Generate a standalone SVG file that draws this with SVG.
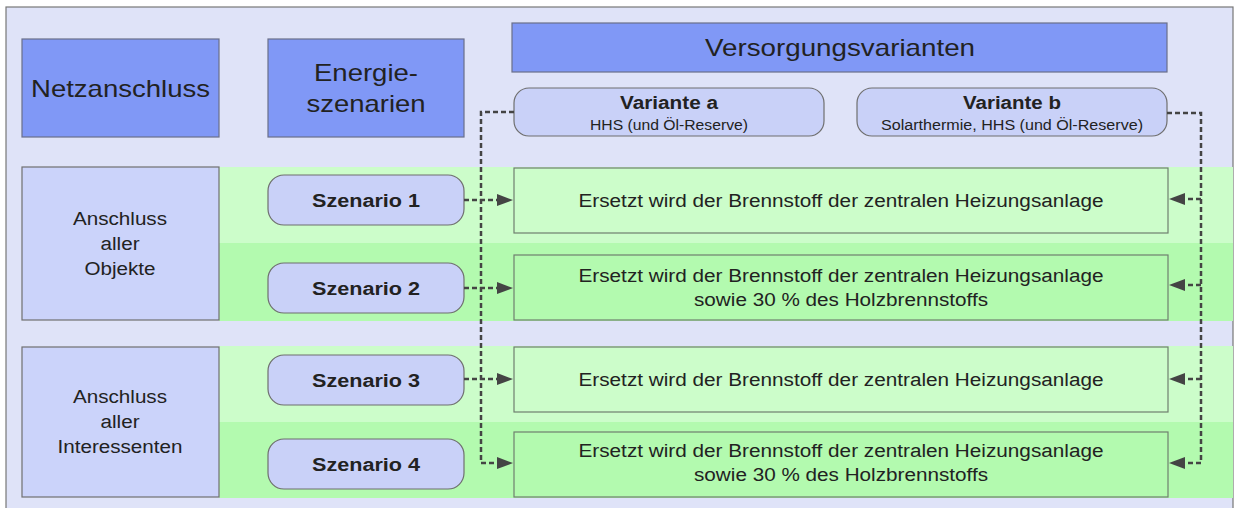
<svg xmlns="http://www.w3.org/2000/svg" xmlns:xlink="http://www.w3.org/1999/xlink" width="1235" height="508" viewBox="0 0 1235 508">
<defs>
<style>
text{font-family:"Liberation Sans",Arial,sans-serif;fill:#222;text-anchor:middle}
.hdr{fill:#8098f6;stroke:#6a6f8a;stroke-width:1.2}
.lav{fill:#cbd3fa;stroke:#707070;stroke-width:1.2}
.pill{fill:#c9d1f8;stroke:#6f6f6f;stroke-width:1.2}
.g1{fill:#ccfdca;stroke:#6f7f6f;stroke-width:1.2}
.g2{fill:#b3faaf;stroke:#6f7f6f;stroke-width:1.2}
.t24{font-size:24px}
.t18{font-size:18px}
.b18{font-size:18px;font-weight:bold}
.t14{font-size:14px}
.con{fill:none;stroke:#444;stroke-width:2.5;stroke-dasharray:5 3}
.ah{fill:#444;stroke:none}
</style>
<path id="ahR" class="ah" d="M-16,-6 L0,0 L-16,6 Z"/>
<path id="ahL" class="ah" d="M16,-6 L0,0 L16,6 Z"/>
</defs>

<rect x="6" y="7" width="1227" height="510" fill="#dfe3f8" stroke="#777" stroke-width="1.2"/>

<g id="bands">
<rect x="219" y="167" width="1014" height="76" fill="#ccfdca"/>
<rect x="219" y="243" width="1014" height="78" fill="#b3faaf"/>
<rect x="219" y="346" width="1014" height="76" fill="#ccfdca"/>
<rect x="219" y="422" width="1014" height="76" fill="#b3faaf"/>
</g>

<g id="netzanschluss">
<rect class="hdr" x="22" y="39" width="197" height="98"/>
<text class="t24" x="120.5" y="97" textLength="179" lengthAdjust="spacingAndGlyphs">Netzanschluss</text>
</g>
<g id="energieszenarien">
<rect class="hdr" x="268" y="39" width="196" height="98"/>
<text class="t24" x="366" y="81" textLength="104" lengthAdjust="spacingAndGlyphs">Energie-</text>
<text class="t24" x="366" y="112" textLength="119" lengthAdjust="spacingAndGlyphs">szenarien</text>
</g>
<g id="versorgungsvarianten">
<rect class="hdr" x="512" y="23" width="655" height="49"/>
<text class="t24" x="840" y="56" textLength="270" lengthAdjust="spacingAndGlyphs">Versorgungsvarianten</text>
</g>

<g id="variante-a">
<rect class="pill" x="514" y="88" width="310" height="48" rx="15"/>
<text class="b18" x="669" y="109" textLength="98" lengthAdjust="spacingAndGlyphs">Variante a</text>
<text class="t14" x="669" y="130" textLength="158" lengthAdjust="spacingAndGlyphs">HHS (und Öl-Reserve)</text>
</g>
<g id="variante-b">
<rect class="pill" x="857" y="88" width="310" height="48" rx="15"/>
<text class="b18" x="1012" y="109" textLength="98" lengthAdjust="spacingAndGlyphs">Variante b</text>
<text class="t14" x="1012" y="130" textLength="262" lengthAdjust="spacingAndGlyphs">Solarthermie, HHS (und Öl-Reserve)</text>
</g>

<g id="anschluss-objekte">
<rect class="lav" x="22" y="167" width="197" height="153"/>
<text class="t18" x="120" y="225" textLength="94" lengthAdjust="spacingAndGlyphs">Anschluss</text>
<text class="t18" x="120" y="250" textLength="39" lengthAdjust="spacingAndGlyphs">aller</text>
<text class="t18" x="120" y="275" textLength="71" lengthAdjust="spacingAndGlyphs">Objekte</text>
</g>
<g id="anschluss-interessenten">
<rect class="lav" x="22" y="347" width="197" height="150"/>
<text class="t18" x="120" y="403" textLength="94" lengthAdjust="spacingAndGlyphs">Anschluss</text>
<text class="t18" x="120" y="428" textLength="39" lengthAdjust="spacingAndGlyphs">aller</text>
<text class="t18" x="120" y="453" textLength="125" lengthAdjust="spacingAndGlyphs">Interessenten</text>
</g>

<g id="szenario-1">
<rect class="pill" x="268" y="175" width="196" height="50" rx="16"/>
<text class="b18" x="366" y="207" textLength="108" lengthAdjust="spacingAndGlyphs">Szenario 1</text>
</g>
<g id="szenario-2">
<rect class="pill" x="268" y="263" width="196" height="50" rx="16"/>
<text class="b18" x="366" y="295" textLength="108" lengthAdjust="spacingAndGlyphs">Szenario 2</text>
</g>
<g id="szenario-3">
<rect class="pill" x="268" y="355" width="196" height="50" rx="16"/>
<text class="b18" x="366" y="387" textLength="108" lengthAdjust="spacingAndGlyphs">Szenario 3</text>
</g>
<g id="szenario-4">
<rect class="pill" x="268" y="439" width="196" height="50" rx="16"/>
<text class="b18" x="366" y="471" textLength="108" lengthAdjust="spacingAndGlyphs">Szenario 4</text>
</g>

<g id="ergebnis-1">
<rect class="g1" x="514" y="168" width="654" height="65"/>
<text class="t18" x="841" y="207" textLength="525" lengthAdjust="spacingAndGlyphs">Ersetzt wird der Brennstoff der zentralen Heizungsanlage</text>
</g>
<g id="ergebnis-2">
<rect class="g2" x="514" y="255" width="654" height="65"/>
<text class="t18" x="841" y="282" textLength="525" lengthAdjust="spacingAndGlyphs">Ersetzt wird der Brennstoff der zentralen Heizungsanlage</text>
<text class="t18" x="841" y="306" textLength="294" lengthAdjust="spacingAndGlyphs">sowie 30 % des Holzbrennstoffs</text>
</g>
<g id="ergebnis-3">
<rect class="g1" x="514" y="347" width="654" height="65"/>
<text class="t18" x="841" y="386" textLength="525" lengthAdjust="spacingAndGlyphs">Ersetzt wird der Brennstoff der zentralen Heizungsanlage</text>
</g>
<g id="ergebnis-4">
<rect class="g2" x="514" y="432" width="654" height="65"/>
<text class="t18" x="841" y="457" textLength="525" lengthAdjust="spacingAndGlyphs">Ersetzt wird der Brennstoff der zentralen Heizungsanlage</text>
<text class="t18" x="841" y="481" textLength="294" lengthAdjust="spacingAndGlyphs">sowie 30 % des Holzbrennstoffs</text>
</g>

<g id="connectors">
<path class="con" d="M514,112 H481 V463"/>
<path class="con" d="M464,200 H498"/>
<path class="con" d="M464,288 H498"/>
<path class="con" d="M464,379 H498"/>
<path class="con" d="M481,463 H498"/>
<use xlink:href="#ahR" href="#ahR" x="513" y="200"/>
<use xlink:href="#ahR" href="#ahR" x="513" y="288"/>
<use xlink:href="#ahR" href="#ahR" x="513" y="379"/>
<use xlink:href="#ahR" href="#ahR" x="513" y="463"/>
<path class="con" d="M1167,113 H1201 V463"/>
<path class="con" d="M1201,199 H1184"/>
<path class="con" d="M1201,285 H1184"/>
<path class="con" d="M1201,379 H1184"/>
<path class="con" d="M1201,463 H1184"/>
<use xlink:href="#ahL" href="#ahL" x="1169" y="199"/>
<use xlink:href="#ahL" href="#ahL" x="1169" y="285"/>
<use xlink:href="#ahL" href="#ahL" x="1169" y="379"/>
<use xlink:href="#ahL" href="#ahL" x="1169" y="463"/>
</g>
</svg>
